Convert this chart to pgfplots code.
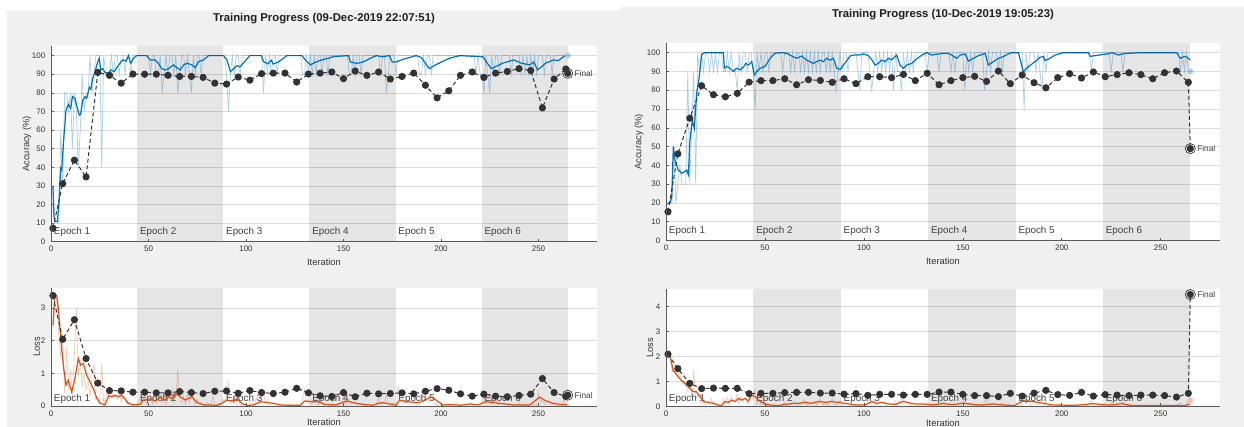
\documentclass[border=0pt]{standalone}
\usepackage{fontspec}
\setmainfont{Liberation Sans}
\usepackage{pgfplots}
\pgfplotsset{compat=1.18}

\definecolor{panel}{RGB}{240,240,240}
\definecolor{shadecol}{RGB}{229,229,229}
\definecolor{mblue}{RGB}{0,114,189}
\definecolor{morange}{RGB}{217,83,25}
\definecolor{valcol}{RGB}{51,51,51}
\definecolor{lblue}{RGB}{170,205,232}
\definecolor{lorange}{RGB}{246,190,165}

\tikzset{
  eplabel/.style={anchor=base west, inner sep=0pt, xshift=2pt, font=\fontsize{7.4}{8}\selectfont, text=black!75},
  finlabel/.style={anchor=west, inner sep=0pt, xshift=5pt, font=\fontsize{6.2}{7}\selectfont, text=black!75},
}
\pgfplotsset{
  tp/.style={
    scale only axis, anchor=south west,
    xmin=0, xmax=280, xtick={0,50,...,250},
    axis x line*=bottom, axis y line*=left,
    tick align=inside, major tick length=2.2pt,
    ymajorgrids, grid style={line width=0.4pt, draw=black, draw opacity=0.14},
    axis line style={draw=black!65, line width=0.5pt},
    tick style={draw=black!65, line width=0.4pt},
    tick label style={font=\fontsize{6}{7}\selectfont, text=black!80},
    yticklabel style={xshift=-0.8pt},
    label style={font=\fontsize{7}{8}\selectfont, text=black!80},
    xlabel={Iteration},
    axis on top, clip mode=individual,
    /pgf/number format/assume math mode=true,
  },
  shadefill/.style={fill=shadecol, draw=none, forget plot},
  rawacc/.style={mblue, opacity=0.33, line width=0.55pt, forget plot},
  smacc/.style={mblue, line width=0.9pt, forget plot},
  rawloss/.style={morange, opacity=0.3, line width=0.55pt, forget plot},
  smloss/.style={morange, line width=0.9pt, forget plot},
  valline/.style={valcol, line width=0.75pt, dash pattern=on 3pt off 2pt, mark=*, mark size=2.3pt, mark options={solid, fill=valcol, draw=valcol}, forget plot},
  finalring/.style={only marks, mark=o, mark size=3.8pt, mark options={draw=valcol, line width=0.5pt, solid}, forget plot},
}

\newcommand{\epochs}[1]{%
  \node[eplabel, yshift=#1] at (axis cs:0,0) {Epoch 1};
  \node[eplabel, yshift=#1] at (axis cs:44.17,0) {Epoch 2};
  \node[eplabel, yshift=#1] at (axis cs:88.33,0) {Epoch 3};
  \node[eplabel, yshift=#1] at (axis cs:132.5,0) {Epoch 4};
  \node[eplabel, yshift=#1] at (axis cs:176.67,0) {Epoch 5};
  \node[eplabel, yshift=#1] at (axis cs:220.83,0) {Epoch 6};
}

\begin{document}
\begin{tikzpicture}
\fill[white] (0,0) rectangle (933pt,320.25pt);
\fill[panel] (5.25pt,0) rectangle (465.75pt,312.75pt);
\fill[panel] (465.75pt,0) rectangle (933pt,315pt);
% plot areas
\fill[white] (38.25pt,139pt) rectangle ++(409.5pt,146.5pt);
\fill[white] (38.25pt,15.8pt) rectangle ++(409.5pt,88.2pt);
\fill[white] (499.5pt,139.9pt) rectangle ++(415.5pt,147.9pt);
\fill[white] (499.5pt,15.5pt) rectangle ++(415.5pt,88pt);

\node[font=\bfseries\fontsize{8.5}{10}\selectfont, text=black!88] at (243pt,306.5pt) {Training Progress (09-Dec-2019 22:07:51)};
\node[font=\bfseries\fontsize{8.5}{10}\selectfont, text=black!88] at (707.25pt,309pt) {Training Progress (10-Dec-2019 19:05:23)};

%================ LEFT ACCURACY =================
\begin{axis}[tp, at={(38.25pt,139pt)}, width=409.5pt, height=146.5pt,
  ymin=0, ymax=105, ytick={0,10,...,100},
  ylabel={Accuracy (\%)},
  ylabel style={at={(axis description cs:-0.044,0.5)}, anchor=center},
  xlabel style={at={(axis description cs:0.5,-0.103)}, anchor=center}]
\addplot[shadefill] coordinates {(44.17,105)(88.33,105)} \closedcycle;
\addplot[shadefill] coordinates {(132.5,105)(176.67,105)} \closedcycle;
\addplot[shadefill] coordinates {(220.83,105)(265,105)} \closedcycle;
\epochs{5pt}
\addplot[rawacc] coordinates {(1,30)(2,10)(3,10)(4,10)(5,60)(6,30)(7,80)(8,80)(9,70)(10,80)(11,50)(12,80)(13,70)(14,40)(15,60)(16,90)(17,70)(18,80)(19,80)(20,100)(21,80)(22,90)(23,100)(25,100)(26,40)(27,100)(28,90)(29,90)(30,90)(31,100)(32,90)(33,100)(34,100)(35,90)(36,100)(37,100)(38,90)(39,100)(40,100)(41,90)(42,100)(50,100)(51,90)(52,100)(53,100)(54,90)(55,90)(56,100)(57,80)(58,90)(59,100)(60,90)(61,100)(62,100)(63,90)(64,100)(65,80)(66,90)(67,100)(68,100)(69,90)(70,100)(71,90)(72,80)(73,100)(74,90)(75,100)(76,100)(77,90)(78,100)(89,100)(90,90)(91,70)(92,90)(93,100)(94,90)(95,100)(96,100)(97,90)(98,100)(108,100)(109,80)(110,100)(111,90)(112,100)(113,90)(114,100)(115,100)(116,90)(117,100)(128,100)(129,90)(130,90)(131,100)(132,90)(133,100)(134,90)(135,100)(136,90)(137,100)(138,100)(139,90)(140,100)(141,100)(142,90)(143,100)(152,100)(153,90)(154,90)(155,100)(156,90)(157,100)(158,100)(159,90)(160,100)(168,100)(169,90)(170,100)(171,100)(172,80)(173,90)(174,100)(176,100)(177,90)(178,100)(188,100)(189,90)(190,90)(191,100)(192,90)(193,100)(194,100)(195,90)(196,100)(217,100)(218,90)(219,100)(220,90)(221,90)(222,80)(223,100)(224,90)(225,80)(226,100)(227,90)(228,100)(229,100)(230,90)(231,100)(235,100)(236,90)(237,100)(240,100)(241,90)(242,100)(243,90)(244,100)(245,90)(246,100)(247,90)(248,100)(249,90)(250,100)(252,100)(253,90)(254,100)(256,100)(257,90)(258,100)(265,100)};
\addplot[smacc] coordinates {(1,30)(1.5,14)(2,10.8)(3.3,10.8)(4.1,21.5)(5,39.4)(5.5,38.5)(6.3,52)(7.7,70.8)(8.9,73.8)(10.1,71.7)(11,78)(12.3,77)(13.5,71.7)(14.6,68)(15.2,68.5)(16.3,76)(17.5,78)(18.3,77)(19.7,83)(20.4,82)(21.4,87.8)(22.6,91.4)(23.5,95)(24.7,98.6)(25.5,92.3)(26.5,93)(27.7,91)(29.5,90.5)(30.7,92.3)(32.4,91.4)(34,94)(35.4,95.9)(36.8,97.7)(38.5,97)(39.7,100)(40.9,95.9)(42.3,98.6)(44,100)(49,100)(50.9,97.7)(53.4,97.7)(55,95.9)(56.8,93)(58.6,92.3)(60.3,93)(62.8,95)(64.6,93.5)(66.3,92.3)(68,95)(69.7,95.9)(72.3,95)(74,93.5)(75.7,96.8)(78.3,97.7)(80.8,100)(88.5,100)(90.2,97.7)(92,91.4)(93.7,93)(95.4,94.6)(97,94)(102,100)(108,100)(109,96.6)(111.5,95.7)(113,97.5)(114,95.5)(116.7,96.6)(121,100)(128.7,100)(130.4,97.7)(133,95)(134.7,96)(137,97)(139.8,98)(142,98.5)(145,99.5)(152.6,100)(153.5,96.6)(157,95.8)(160,96.6)(163.3,98.3)(166.8,100)(170,99.4)(173.5,100)(175,96.6)(177,96.6)(180.5,98)(187.3,100)(189.9,99)(194,93)(197.5,95.2)(204.4,98.6)(209.5,100)(221.5,99.4)(223.3,96.6)(225.8,93)(228.4,94.3)(231.8,96)(237.4,97.7)(241,96)(245.5,95)(247.5,96.5)(249.6,92.3)(253.6,95.9)(257.7,97.7)(260,97.3)(263.8,100)(265,100)};
\addplot[only marks, mark=*, mark size=2pt, color=lblue, forget plot] coordinates {(265,100)};
\addplot[valline] coordinates {(1,7.2)(6,31.2)(12,43.8)(18,34.8)(24,91)(30,89.4)(36,85.2)(42,90.1)(48,90)(54,90)(60,89.4)(66,88.8)(72,88.8)(78,88.3)(84,85.2)(90,84.7)(96,88.5)(102,86.8)(108,90.3)(114,90.6)(120,90.6)(126,85.8)(132,90.1)(138,90.6)(144,91.2)(150,87.6)(156,91.7)(162,89.4)(168,91.2)(174,87.4)(180,88.8)(186,90.6)(192,84.1)(198,77.3)(204,81.1)(210,89.4)(216,91.2)(222,88.3)(228,90.6)(234,91.5)(240,93)(246,92)(252,71.9)(258,87.4)(264,92.8)(265,90.5)};
\addplot[finalring] coordinates {(265,90.5)};
\node[finlabel] at (axis cs:265,90.5) {Final};
\end{axis}

%================ LEFT LOSS =================
\begin{axis}[tp, at={(38.25pt,15.8pt)}, width=409.5pt, height=88.2pt,
  ymin=0, ymax=3.6, ytick={0,1,2,3},
  ylabel={Loss},
  ylabel style={at={(axis description cs:-0.026,0.5)}, anchor=center},
  xlabel style={at={(axis description cs:0.5,-0.14)}, anchor=center}]
\addplot[shadefill] coordinates {(44.17,3.6)(88.33,3.6)} \closedcycle;
\addplot[shadefill] coordinates {(132.5,3.6)(176.67,3.6)} \closedcycle;
\addplot[shadefill] coordinates {(220.83,3.6)(265,3.6)} \closedcycle;
\epochs{3.6pt}
\addplot[rawloss] coordinates {(1,2.4)(2,3.4)(3,3.3)(4,2.2)(5,1.5)(6,2.1)(7,0.4)(8,1.8)(9,0.5)(10,1.1)(11,0.3)(12,1.6)(13,3.0)(14,0.9)(15,1.4)(16,0.6)(17,1.0)(18,0.5)(19,0.8)(20,0.3)(21,0.9)(22,1.3)(23,0.2)(24,0.3)(25,0.1)(26,1.3)(27,0.05)(28,0.3)(29,0.4)(30,0.2)(31,0.45)(32,0.25)(33,0.3)(34,0.2)(35,0.5)(36,0.1)(37,0.3)(38,0.2)(39,0.05)(40,0.1)(41,0.02)(42,0.1)(43,0.02)(44,0.05)(45,0.1)(46,0.3)(47,0.15)(48,0.3)(49,0.05)(50,0.2)(51,0.3)(52,0.05)(53,0.4)(54,0.1)(55,0.2)(56,0.3)(57,0.1)(58,0.45)(59,0.05)(60,0.3)(61,0.2)(62,0.5)(63,0.1)(64,0.3)(65,1.1)(66,0.2)(67,0.1)(68,0.3)(69,0.05)(70,0.35)(71,0.1)(72,0.45)(73,0.2)(74,0.05)(75,0.2)(76,0.05)(77,0.1)(78,0.02)(80,0.1)(82,0.02)(83,0.3)(84,0.02)(86,0.1)(87,0.05)(88,0.2)(89,0.1)(90,0.3)(91,0.7)(92,0.1)(93,0.2)(94,0.3)(95,0.05)(96,0.25)(97,0.02)(99,0.05)(101,0.02)(103,0.1)(104,0.02)(106,0.3)(107,0.05)(108,0.2)(109,0.4)(110,0.05)(111,0.2)(112,0.02)(114,0.1)(116,0.02)(118,0.04)(120,0.01)(122,0.05)(124,0.01)(126,0.03)(128,0.01)(129,0.2)(130,0.5)(131,0.1)(132,0.2)(133,0.05)(135,0.15)(136,0.3)(137,0.05)(139,0.1)(140,0.02)(142,0.05)(144,0.01)(146,0.04)(148,0.02)(149,0.1)(150,0.3)(151,0.05)(153,0.2)(154,0.05)(156,0.1)(157,0.02)(159,0.06)(161,0.01)(163,0.05)(165,0.01)(167,0.05)(168,0.25)(169,0.05)(171,0.1)(172,0.35)(173,0.05)(175,0.02)(176,0.1)(177,0.01)(178,0.6)(179,0.1)(180,0.2)(181,0.05)(183,0.15)(184,0.05)(186,0.1)(188,0.05)(190,0.3)(191,0.1)(193,0.45)(194,0.1)(196,0.3)(197,0.05)(199,0.02)(201,0.01)(203,0.04)(205,0.01)(207,0.05)(208,0.1)(209,0.02)(211,0.05)(213,0.01)(215,0.08)(217,0.02)(219,0.05)(221,0.02)(222,0.3)(223,0.05)(225,0.35)(226,0.05)(228,0.2)(229,0.03)(231,0.08)(233,0.02)(235,0.05)(237,0.01)(239,0.03)(240,0.1)(241,0.01)(243,0.04)(245,0.01)(247,0.05)(249,0.02)(250,0.4)(251,0.1)(252,0.2)(253,0.05)(255,0.15)(256,0.03)(258,0.05)(260,0.01)(262,0.04)(263,0.2)(264,0.03)(265,0.05)};
\addplot[smloss] coordinates {(1,2.47)(2,3.39)(2.9,3.39)(3.8,2.98)(5,2.07)(6.3,1.25)(7.7,0.64)(8.9,0.79)(10.6,0.43)(12.3,0.84)(14,1.45)(15.2,1.25)(16.6,1.3)(18.3,0.94)(20,0.74)(21.7,0.53)(23.5,0.23)(25.2,0.08)(27.7,0.03)(29.5,0.31)(31.2,0.28)(32.9,0.33)(34.6,0.28)(36.3,0.33)(38,0.21)(39.7,0.08)(42.3,0.03)(45.7,0.05)(47.4,0.18)(50.9,0.21)(53.4,0.15)(56,0.25)(58.6,0.18)(60.3,0.28)(62,0.23)(63.7,0.38)(66.3,0.28)(68.8,0.18)(72.3,0.28)(74.8,0.11)(78.3,0.03)(81.7,0.03)(85.1,0.01)(87.7,0.08)(90.2,0.18)(92.8,0.15)(95.4,0.21)(97.9,0.08)(100.5,0.01)(104,0.03)(107.4,0.13)(110,0.11)(114,0.08)(117.6,0.03)(122,0.02)(128,0.02)(130,0.15)(134,0.13)(138,0.12)(140,0.05)(146,0.03)(150,0.12)(152,0.15)(155,0.1)(160,0.05)(165,0.02)(168,0.08)(170,0.1)(175,0.05)(177,0.01)(178.7,0.18)(182.7,0.13)(188.8,0.1)(195,0.27)(197,0.2)(201,0.03)(205,0.04)(210,0.02)(215,0.06)(219,0.03)(223,0.13)(227,0.1)(233,0.06)(237.4,0.03)(245.5,0.03)(250.6,0.27)(253.6,0.16)(257.7,0.08)(261.8,0.04)(264.8,0.03)};
\addplot[valline] coordinates {(1,3.38)(6,2.04)(12,2.64)(18,1.45)(24,0.70)(30,0.47)(36,0.46)(42,0.42)(48,0.42)(54,0.40)(60,0.40)(66,0.44)(72,0.41)(78,0.38)(84,0.45)(90,0.46)(96,0.39)(102,0.47)(108,0.41)(114,0.38)(120,0.42)(126,0.54)(132,0.40)(138,0.31)(144,0.29)(150,0.41)(156,0.28)(162,0.39)(168,0.37)(174,0.38)(180,0.40)(186,0.37)(192,0.45)(198,0.53)(204,0.48)(210,0.37)(216,0.30)(222,0.36)(228,0.30)(234,0.28)(240,0.32)(246,0.36)(252,0.84)(258,0.41)(264,0.29)(265,0.33)};
\addplot[finalring] coordinates {(265,0.33)};
\node[finlabel] at (axis cs:265,0.33) {Final};
\end{axis}

%================ RIGHT ACCURACY =================
\begin{axis}[tp, at={(499.5pt,139.9pt)}, width=415.5pt, height=147.9pt,
  ymin=0, ymax=105, ytick={0,10,...,100},
  ylabel={Accuracy (\%)},
  ylabel style={at={(axis description cs:-0.049,0.5)}, anchor=center},
  xlabel style={at={(axis description cs:0.5,-0.107)}, anchor=center}]
\addplot[shadefill] coordinates {(44.17,105)(88.33,105)} \closedcycle;
\addplot[shadefill] coordinates {(132.5,105)(176.67,105)} \closedcycle;
\addplot[shadefill] coordinates {(220.83,105)(265,105)} \closedcycle;
\epochs{5pt}
\addplot[rawacc] coordinates {(1,20)(2,20)(3,20)(4,50)(5,20)(6,30)(7,40)(8,30)(9,30)(10,30)(11,90)(12,30)(13,60)(14,90)(15,30)(16,100)(17,90)(18,100)(19,90)(20,100)(21,100)(22,90)(23,100)(24,90)(25,100)(26,90)(27,100)(28,100)(29,90)(30,90)(31,100)(32,90)(33,100)(34,90)(35,90)(36,80)(37,100)(38,90)(39,100)(40,100)(41,90)(42,100)(43,100)(44,90)(45,70)(46,100)(47,90)(48,100)(49,90)(50,100)(51,100)(52,90)(53,100)(58,100)(59,90)(60,100)(62,100)(63,90)(64,100)(65,90)(66,100)(67,100)(68,90)(69,100)(70,90)(71,100)(72,90)(73,100)(74,90)(75,100)(76,90)(77,100)(78,90)(79,100)(80,100)(81,90)(82,100)(83,90)(84,100)(85,90)(86,80)(87,90)(88,100)(89,90)(90,100)(91,100)(92,90)(93,100)(96,100)(97,90)(98,80)(99,100)(102,100)(103,90)(104,80)(105,90)(106,100)(107,90)(108,100)(109,90)(110,100)(111,90)(112,100)(113,90)(114,100)(115,80)(116,100)(117,90)(118,90)(119,80)(120,100)(121,90)(122,100)(123,90)(124,100)(125,90)(126,100)(131,100)(132,90)(133,100)(137,100)(138,90)(139,100)(143,100)(144,90)(145,100)(146,90)(147,100)(150,100)(151,80)(152,100)(153,90)(154,100)(155,90)(156,100)(160,100)(161,80)(162,90)(163,100)(164,90)(165,100)(167,100)(168,90)(169,100)(170,90)(171,100)(180,100)(181,70)(182,100)(183,90)(184,100)(186,100)(187,90)(188,100)(189,90)(190,80)(191,100)(192,90)(193,100)(214,100)(215,90)(216,100)(224,100)(225,90)(226,100)(230,100)(231,90)(232,100)(259,100)(260,90)(261,100)(262,90)(263,100)(264,90)(265,90)};
\addplot[smacc] coordinates {(1,19.8)(2,20)(2.9,23)(3.7,50)(4.5,42.9)(6.2,37.5)(7.9,35.8)(9.6,36.7)(10.4,37.5)(11.3,35)(12.1,53.5)(13.3,64)(14.3,59.7)(15.5,78.4)(16.7,86.3)(18,98.8)(19.4,100)(29,100)(29.5,91.7)(30.7,92.6)(32.4,91.7)(34,90)(35.7,91.7)(37.4,90.8)(39.1,92.2)(40.3,94.3)(41.6,93.4)(43.3,95.2)(44.7,88.1)(45.8,89.9)(47.5,91.7)(50,92.6)(52.6,97)(55.1,99.7)(59.3,100)(61.8,99.3)(63.5,98.2)(66,97)(68.6,98.2)(71.1,96)(72.8,95.2)(74.5,94.3)(76.2,95.2)(77.9,96)(79.5,95.2)(81.2,97)(82.9,96)(84.6,97)(86.3,91.7)(88,91.1)(89.7,93.4)(91.3,95.6)(93,98.2)(94.7,98.7)(97.2,98.7)(99.8,99.3)(102.3,98.4)(104,96.2)(105.7,93.4)(107.3,94.3)(109,96)(110.7,95.2)(112.4,97)(114,96.2)(115.8,97.9)(116.6,98.7)(118.3,93.4)(120,91.7)(121.7,93.4)(124.2,94.3)(125.9,96)(129.3,98.7)(131.8,100)(134.3,98.7)(139.4,99.6)(142.7,99.6)(144.4,98.7)(147,97)(148.6,98.7)(151.2,99.3)(152.9,95.5)(155.4,97)(157.9,98.4)(161.3,99.6)(162.9,93.4)(165.5,95.2)(168,97)(170.5,97.9)(173,99.3)(174.7,100)(178.1,100)(180.6,89.9)(183.1,92.5)(186.5,95.2)(189,97.5)(190.7,97.9)(191.6,95.8)(194.1,97)(196.6,98.7)(200.8,100)(213.5,100)(214.3,98)(216.8,98.4)(223.6,99.4)(225.3,100)(228.6,98.7)(231.2,99.5)(235,99.7)(240,100)(258,100)(260,97)(262,98)(263.5,97.5)(265,96)};
\addplot[only marks, mark=*, mark size=2pt, color=lblue, forget plot] coordinates {(265,90)};
\addplot[valline] coordinates {(1,15.3)(6,46.1)(12,65.1)(18,82.4)(24,77.6)(30,76.5)(36,78.3)(42,84.3)(48,85.1)(54,85.1)(60,86.1)(66,82.9)(72,85.6)(78,85.2)(84,84.2)(90,86.1)(96,83.5)(102,87.2)(108,87.2)(114,86.7)(120,88.4)(126,85.1)(132,89)(138,82.9)(144,85.1)(150,86.7)(156,87.4)(162,84.7)(168,90.2)(174,83.5)(180,88.1)(186,84)(192,81.3)(198,86.7)(204,88.8)(210,86.5)(216,89.7)(222,87.2)(228,88.3)(234,89.3)(240,88.3)(246,86.1)(252,89.3)(258,90.2)(264,84.2)(265,48.9)};
\addplot[finalring] coordinates {(265,48.9)};
\node[finlabel] at (axis cs:265,48.9) {Final};
\end{axis}

%================ RIGHT LOSS =================
\begin{axis}[tp, at={(499.5pt,15.5pt)}, width=415.5pt, height=88pt,
  ymin=0, ymax=4.7, ytick={0,1,2,3,4},
  ylabel={Loss},
  ylabel style={at={(axis description cs:-0.029,0.5)}, anchor=center},
  xlabel style={at={(axis description cs:0.5,-0.14)}, anchor=center}]
\addplot[shadefill] coordinates {(44.17,4.7)(88.33,4.7)} \closedcycle;
\addplot[shadefill] coordinates {(132.5,4.7)(176.67,4.7)} \closedcycle;
\addplot[shadefill] coordinates {(220.83,4.7)(265,4.7)} \closedcycle;
\epochs{3.6pt}
\addplot[rawloss] coordinates {(1,2.1)(2,2.1)(3,1.4)(4,1.5)(5,1.3)(6,1.2)(7,1.4)(8,0.9)(9,1.0)(10,0.8)(11,0.6)(12,0.9)(13,0.4)(14,1.45)(15,0.3)(16,0.5)(17,0.2)(18,0.1)(19,0.3)(20,0.05)(21,0.2)(22,0.1)(23,0.3)(24,0.05)(25,0.1)(26,0.02)(27,0.05)(28,0.02)(29,0.3)(30,0.1)(31,0.35)(32,0.05)(33,0.4)(34,0.15)(35,0.3)(36,0.5)(37,0.1)(38,0.4)(39,0.2)(40,0.35)(41,0.1)(42,0.3)(43,0.6)(44,0.3)(45,0.7)(46,0.1)(47,0.3)(48,0.05)(49,0.1)(50,0.02)(52,0.05)(54,0.01)(56,0.04)(58,0.02)(60,0.15)(61,0.03)(63,0.06)(65,0.2)(66,0.03)(68,0.08)(70,0.25)(71,0.05)(73,0.1)(75,0.2)(76,0.04)(78,0.3)(79,0.05)(81,0.1)(82,0.03)(84,0.3)(85,0.05)(87,0.1)(88,0.25)(89,0.03)(91,0.06)(93,0.01)(95,0.04)(97,0.01)(99,0.03)(101,0.02)(103,0.35)(104,0.1)(105,0.25)(106,0.05)(108,0.1)(110,0.2)(111,0.03)(113,0.08)(115,0.05)(116,0.2)(117,0.05)(119,0.35)(120,0.1)(122,0.15)(123,0.03)(125,0.15)(126,0.02)(128,0.05)(130,0.02)(132,0.15)(133,0.03)(135,0.05)(137,0.02)(139,0.08)(140,0.2)(141,0.03)(143,0.06)(145,0.02)(147,0.08)(149,0.03)(151,0.3)(152,0.05)(154,0.1)(156,0.02)(158,0.05)(160,0.02)(162,0.3)(163,0.05)(165,0.08)(167,0.02)(169,0.05)(170,0.15)(171,0.03)(173,0.04)(175,0.01)(177,0.02)(179,0.05)(181,0.45)(182,0.1)(183,0.3)(184,0.05)(186,0.15)(188,0.05)(190,0.35)(191,0.05)(192,0.2)(193,0.03)(195,0.05)(197,0.01)(199,0.04)(201,0.01)(203,0.05)(205,0.02)(207,0.04)(209,0.01)(211,0.05)(213,0.02)(215,0.25)(216,0.03)(218,0.06)(220,0.02)(222,0.05)(224,0.02)(225,0.15)(226,0.03)(228,0.05)(230,0.02)(231,0.2)(232,0.03)(234,0.05)(236,0.01)(238,0.03)(240,0.01)(242,0.04)(244,0.01)(246,0.03)(248,0.01)(250,0.04)(252,0.01)(254,0.03)(256,0.01)(258,0.04)(260,0.15)(261,0.02)(263,0.05)(264,0.24)(265,0.24)};
\addplot[smloss] coordinates {(1,2.11)(2,2.05)(2.9,1.71)(3.7,1.41)(4.9,1.31)(6.2,1.18)(7.6,1.05)(8.8,0.98)(10.4,0.85)(12.1,0.72)(13.8,0.58)(15.5,0.58)(17.2,0.39)(18.9,0.19)(21.4,0.16)(23.9,0.12)(26.5,0.05)(28.1,0.03)(29.8,0.19)(31.5,0.16)(33.2,0.25)(34.9,0.19)(36.6,0.32)(38.3,0.25)(40,0.32)(41.6,0.21)(43.3,0.45)(45,0.39)(46.7,0.25)(48.4,0.16)(50.9,0.08)(53.4,0.05)(56.8,0.03)(60.2,0.08)(63.5,0.11)(66.9,0.12)(70.3,0.16)(73.6,0.12)(77,0.19)(80.4,0.16)(83.8,0.19)(87.1,0.16)(90.5,0.12)(93.9,0.08)(97.2,0.05)(100.6,0.05)(104,0.19)(106.5,0.12)(109,0.16)(112,0.1)(116,0.08)(120,0.2)(125,0.1)(130,0.09)(135,0.06)(140,0.11)(145,0.07)(150,0.13)(155,0.08)(160,0.05)(165,0.1)(170,0.06)(176,0.03)(180,0.2)(185,0.2)(190,0.13)(195,0.06)(200,0.05)(205,0.04)(210,0.06)(216,0.11)(220,0.07)(225,0.05)(230,0.11)(235,0.04)(240,0.03)(250,0.03)(262,0.03)(265,0.09)};
\addplot[only marks, mark=*, mark size=2pt, color=lorange, forget plot] coordinates {(265,0.24)};
\addplot[valline] coordinates {(1,2.09)(6,1.51)(12,0.92)(18,0.71)(24,0.73)(30,0.72)(36,0.72)(42,0.51)(48,0.52)(54,0.52)(60,0.55)(66,0.56)(72,0.56)(78,0.53)(84,0.53)(90,0.49)(96,0.51)(102,0.44)(108,0.48)(114,0.48)(120,0.45)(126,0.48)(132,0.48)(138,0.57)(144,0.57)(150,0.48)(156,0.43)(162,0.43)(168,0.39)(174,0.52)(180,0.41)(186,0.53)(192,0.64)(198,0.47)(204,0.44)(210,0.56)(216,0.41)(222,0.47)(228,0.45)(234,0.43)(240,0.45)(246,0.45)(252,0.43)(258,0.37)(264,0.52)(265,4.48)};
\addplot[finalring] coordinates {(265,4.48)};
\node[finlabel] at (axis cs:265,4.48) {Final};
\end{axis}
\pgfresetboundingbox
\useasboundingbox (0,0) rectangle (933pt,320.25pt);
\end{tikzpicture}
\end{document}
